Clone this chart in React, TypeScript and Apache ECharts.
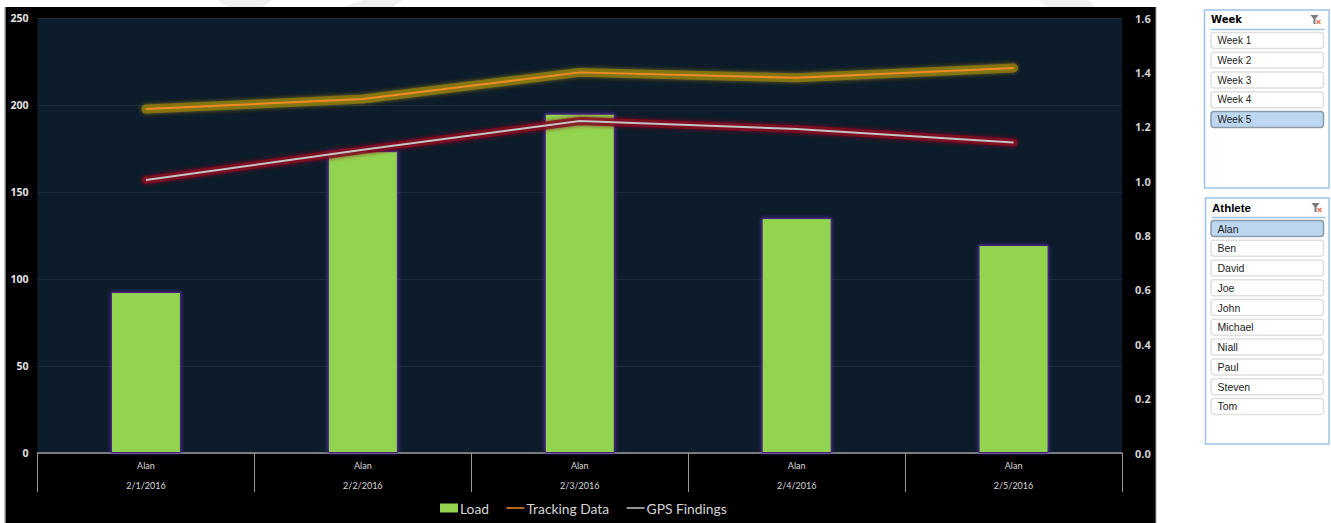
import React, { useEffect, useRef } from "react";
import * as echarts from "echarts";

const athleteNames = ["Alan", "Alan", "Alan", "Alan", "Alan"];
const sessionDates = ["2/1/2016", "2/2/2016", "2/3/2016", "2/4/2016", "2/5/2016"];
const loadValues = [92.5, 173.5, 195, 135, 119.5];
const trackingValues = [1.265, 1.302, 1.4, 1.38, 1.416];
const gpsValues = [1.004, 1.115, 1.221, 1.192, 1.142];
const loadTicks = { min: 0, max: 250, interval: 50 };
const ratioTicks = { min: 0, max: 1.6, interval: 0.2 };
const weekOptions = ["Week 1", "Week 2", "Week 3", "Week 4", "Week 5"];
const athleteOptions = ["Alan", "Ben", "David", "Joe", "John", "Michael", "Niall", "Paul", "Steven", "Tom"];

const LEGEND_FONT = "Lato";
// Thin horizontal dash whose bounding box still spans the whole legend swatch.
const DASH_ICON = "path://M0 0L0.01 0L0 0ZM0 3.8H18V5.2H0ZM18 9L17.99 9L18 9Z";

type Box = { x: number; y: number; w: number; h: number; inset: number; titleFont: string; itemFont: string };

// One filter list: frame, header with its clear-filter glyph, then a button per option.
function slicer(title: string, options: string[], selected: string, box: Box) {
  const els: any[] = [
    { type: "rect", shape: { x: box.x, y: box.y, width: box.w, height: box.h }, style: { fill: "#ffffff", stroke: "#9cc3e8", lineWidth: 1.5 } },
    { type: "text", style: { x: box.x + 6.5, y: box.y + 9.5, text: title, font: box.titleFont, fill: "#000000", verticalAlign: "middle" } },
    { type: "line", shape: { x1: box.x + 6, y1: box.y + 19.5, x2: box.x + 120, y2: box.y + 19.5 }, style: { stroke: "#9cc3e8", lineWidth: 1.5 } },
    { type: "polygon", shape: { points: [[box.x + 106, box.y + 5], [box.x + 114, box.y + 5], [box.x + 111, box.y + 9], [box.x + 111, box.y + 14], [box.x + 109, box.y + 14], [box.x + 109, box.y + 9]] }, style: { fill: "#7a7a7a" } },
    { type: "line", shape: { x1: box.x + 112, y1: box.y + 10, x2: box.x + 116, y2: box.y + 14 }, style: { stroke: "#e8775a", lineWidth: 1.2 } },
    { type: "line", shape: { x1: box.x + 116, y1: box.y + 10, x2: box.x + 112, y2: box.y + 14 }, style: { stroke: "#e8775a", lineWidth: 1.2 } },
  ];
  options.forEach((name, i) => {
    const cy = box.y + 30.5 + i * 19.77;
    const on = name === selected;
    els.push({
      type: "rect",
      shape: { x: box.x + box.inset, y: cy - 8, width: 112.5, height: 16, r: 3 },
      style: { fill: on ? "#bcd7ef" : "#ffffff", stroke: on ? "#8a9aa8" : "#e0e0e0", lineWidth: 1.5 },
    });
    els.push({
      type: "text",
      style: { x: box.x + box.inset + 6.5, y: cy, text: name, font: box.itemFont, fill: "#222222", verticalAlign: "middle" },
    });
  });
  return els;
}

export default function App() {
  const ref = useRef<HTMLDivElement>(null);

  useEffect(() => {
    document.body.style.margin = "0";
    const chart = echarts.init(ref.current!, undefined, { renderer: "svg" });

    const glow = (name: string, data: number[], color: string, width: number) => ({
      name,
      type: "line",
      yAxisIndex: 1,
      data,
      symbol: "none",
      silent: true,
      z: 3,
      lineStyle: { width, color, opacity: 0.8, cap: "round", shadowColor: color, shadowBlur: 4 },
    });

    chart.setOption({
      animation: false,
      backgroundColor: "#ffffff",
      textStyle: { fontFamily: LEGEND_FONT },
      grid: {
        show: true,
        left: 37.5,
        right: 209,
        top: 18,
        height: 435,
        backgroundColor: "#0d1c2a",
        borderWidth: 0,
      },
      legend: {
        data: [
          { name: "Load", icon: "rect" },
          { name: "Tracking Data", icon: DASH_ICON },
          { name: "GPS Findings", icon: DASH_ICON },
        ],
        left: 435,
        top: 496,
        itemWidth: 18,
        itemHeight: 9,
        itemGap: 17.5,
        textStyle: { color: "#d6d6d6", fontSize: 13.8, fontFamily: LEGEND_FONT, padding: [0, 0, 0, -3] },
        itemStyle: { shadowBlur: 0, borderWidth: 0 },
        lineStyle: { shadowBlur: 0, width: 0 },
      },
      xAxis: {
        type: "category",
        data: sessionDates.map((d, i) => `${athleteNames[i]}\n${d}`),
        axisLine: { show: true, lineStyle: { color: "#9a9a9a", width: 1.5 } },
        axisTick: { show: true, length: 39, lineStyle: { color: "#9a9a9a", width: 1 } },
        axisLabel: { color: "#d8d8d8", fontSize: 9, lineHeight: 19.5, margin: 3, fontFamily: LEGEND_FONT },
      },
      yAxis: [
        {
          type: "value",
          ...loadTicks,
          position: "left",
          axisLine: { show: false },
          axisTick: { show: false },
          axisLabel: { color: "#e4e4e4", fontSize: 10.5, fontWeight: "bold", margin: 9, fontFamily: "'Open Sans'" },
          splitLine: { show: true, lineStyle: { color: "#1c2c3a", width: 1 } },
        },
        {
          type: "value",
          ...ratioTicks,
          position: "right",
          axisLine: { show: false },
          axisTick: { show: false },
          axisLabel: { color: "#d0d0d0", fontSize: 11, fontWeight: "bold", margin: 13, fontFamily: "'Open Sans'", formatter: (v: number) => v.toFixed(1) },
          splitLine: { show: false },
        },
      ],
      series: [
        {
          name: "Load",
          type: "bar",
          data: loadValues,
          barWidth: 70,
          z: 2,
          itemStyle: { color: "#92d34f", borderColor: "#43207f", borderWidth: 1, shadowColor: "#5a2aa8", shadowBlur: 4 },
        },
        glow("Tracking glow", trackingValues, "#8f7c12", 9),
        glow("GPS glow", gpsValues, "#850a20", 8),
        {
          name: "Tracking Data",
          type: "line",
          yAxisIndex: 1,
          data: trackingValues,
          symbol: "none",
          z: 4,
          lineStyle: { width: 2, color: "#f08a26" },
          itemStyle: { color: "#f08a26" },
        },
        {
          name: "GPS Findings",
          type: "line",
          yAxisIndex: 1,
          data: gpsValues,
          symbol: "none",
          z: 4,
          lineStyle: { width: 2, color: "#c4c4c4" },
          itemStyle: { color: "#c4c4c4" },
        },
      ],
      graphic: {
        elements: [
          // Faint backdrop streaks along the top edge
          { type: "polygon", z: -20, shape: { points: [[217, 0], [273, 0], [263, 7], [227, 7]] }, style: { fill: "#f0f0f0" } },
          { type: "polygon", z: -20, shape: { points: [[363, 0], [403, 0], [393, 7], [343, 7]] }, style: { fill: "#f0f0f0" } },
          { type: "polygon", z: -20, shape: { points: [[1038, 0], [1088, 0], [1095, 7], [1048, 7]] }, style: { fill: "#f0f0f0" } },
          // Chart panel behind the plot
          { type: "rect", z: -10, shape: { x: 5, y: 7, width: 1151, height: 516 }, style: { fill: "#000000" } },
          { type: "line", z: -9, shape: { x1: 5, y1: 7, x2: 5, y2: 523 }, style: { stroke: "#a8a8a8", lineWidth: 1.5 } },
          { type: "line", z: -9, shape: { x1: 1156, y1: 7, x2: 1156, y2: 523 }, style: { stroke: "#a8a8a8", lineWidth: 1 } },
          ...slicer("Week", weekOptions, "Week 5", { x: 1204.5, y: 10, w: 124.5, h: 178, inset: 6.5, titleFont: "bold 10px 'DejaVu Sans'", itemFont: "10px 'Liberation Sans'" }),
          ...slicer("Athlete", athleteOptions, "Alan", { x: 1205.5, y: 198, w: 123.5, h: 246, inset: 5.5, titleFont: "bold 11.5px 'Liberation Sans'", itemFont: "10.5px 'Liberation Sans'" }),
        ],
      },
    });
    return () => chart.dispose();
  }, []);

  return <div ref={ref} style={{ width: 1331, height: 523 }} />;
}
